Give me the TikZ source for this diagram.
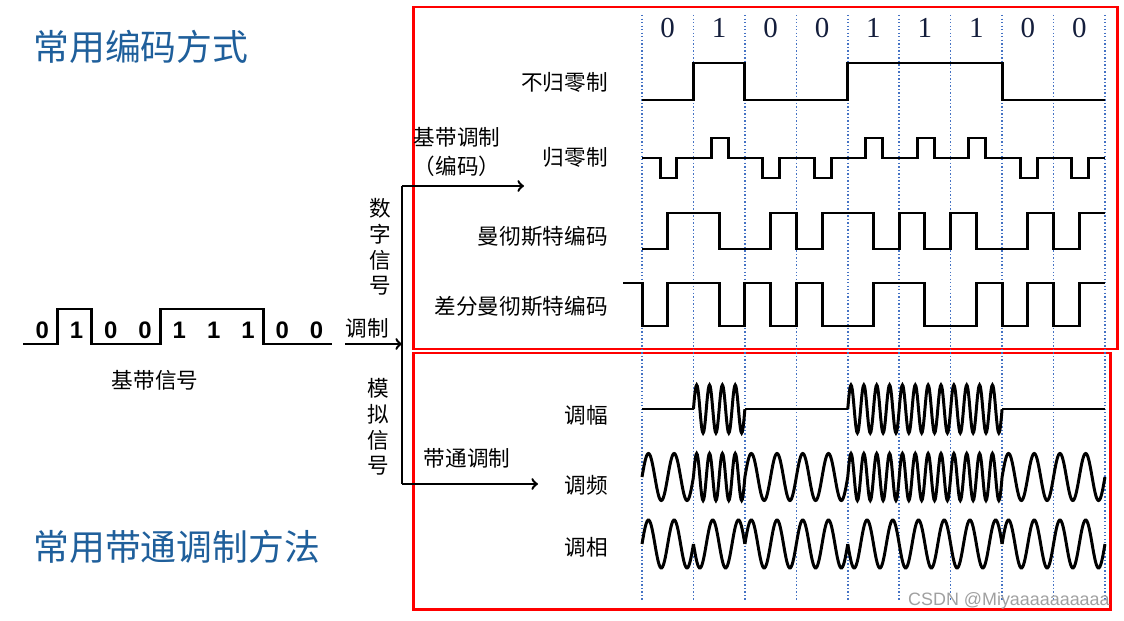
\documentclass[tikz,border=0pt]{standalone}
\usepackage{fontspec}
\setmainfont{Liberation Serif}
\newfontfamily\cjk{Noto Sans CJK SC}
\newfontfamily\arial{Liberation Sans}
\usetikzlibrary{arrows}

\definecolor{titleblue}{RGB}{31,95,155}
\definecolor{gridblue}{RGB}{68,114,196}
\definecolor{markgray}{RGB}{160,160,160}
\definecolor{bitink}{RGB}{20,30,60}

\tikzstyle{headline} = [
    font=\cjk\fontsize{20.4}{24}\selectfont,
    text=titleblue,
    anchor=west,
    inner sep=0pt
]
\tikzstyle{wavename} = [
    font=\cjk\fontsize{12.3}{15}\selectfont,
    anchor=east,
    inner sep=0pt
]
\tikzstyle{sidetext} = [
    font=\cjk\fontsize{12.3}{14.6}\selectfont,
    align=center,
    inner sep=0pt
]
\tikzstyle{bitnum} = [
    font=\fontsize{16.5}{19}\selectfont,
    text=bitink,
    inner sep=0pt
]
\tikzstyle{basenum} = [
    font=\arial\bfseries\fontsize{13.6}{16}\selectfont,
    inner sep=0pt
]
\tikzstyle{bitgrid} = [
    gridblue,
    line width=0.85pt,
    dash pattern=on 0.8pt off 1.2pt
]
\tikzstyle{wave} = [line width=1.7pt, line join=miter]
\tikzstyle{redbox} = [red, line width=1.7pt]
\tikzstyle{arrow} = [line width=1.4pt, ->, >=to]

\begin{document}
\begin{tikzpicture}[x=0.02cm, y=-0.02cm]
\useasboundingbox (0,0) rectangle (1124,621);

% titles
\node (codetitle) [headline] at (33,47) {常用编码方式};
\node (bandtitle) [headline] at (33,547) {常用带通调制方法};

% red frames
\draw [redbox] (413,7) rectangle (1117,349);
\draw [redbox] (413,353) rectangle (1110,609);

% bit grid and bit values
\foreach \k in {0,...,9}
    \draw [bitgrid] ({642+\k*51.44},15) -- ({642+\k*51.44},600);
\foreach \b [count=\i from 0] in {0,1,0,0,1,1,1,0,0}
    \node (bit\i) [bitnum] at ({642+(\i+0.5)*51.44},28) {\b};

% baseband signal
\draw [wave] (23,344) \foreach \b [count=\i from 0] in {0,1,0,0,1,1,1,0,0}
    { -- ({23+\i*34.3},{344-35*\b}) -- ({23+(\i+1)*34.3},{344-35*\b}) };
\foreach \b [count=\i from 0] in {0,1,0,0,1,1,1,0,0}
    \node (base\i) [basenum] at ({25+(\i+0.5)*34.3},330) {\b};
\node (basename) [sidetext] at (155,380) {基带信号};

% branch
\coordinate (instart) at (345,344);
\coordinate (fork) at (402,344);
\coordinate (forktop) at (402,186);
\coordinate (forkbot) at (402,484);
\coordinate (codeend) at (524,186);
\coordinate (bandend) at (538,484);
\node (modtext) [sidetext] at (367,328) {调制};
\draw [arrow] (instart) -- (fork);
\draw [line width=1.4pt] (forktop) -- (forkbot);
\draw [arrow] (forktop) -- (codeend);
\draw [arrow] (forkbot) -- (bandend);
\node (digital) [sidetext] at (380,247) {数\\字\\信\\号};
\node (analog) [sidetext] at (378,427) {模\\拟\\信\\号};
\node (basemod) [sidetext, font=\cjk\fontsize{12.3}{16.4}\selectfont] at (457,152) {基带调制\\（编码）};
\node (bandmod) [sidetext] at (467,458) {带通调制};

% line codes
\node (nrz) [wavename] at (608,82) {不归零制};
\node (rz) [wavename] at (608,157) {归零制};
\node (manch) [wavename] at (608,236) {曼彻斯特编码};
\node (dmanch) [wavename] at (608,306) {差分曼彻斯特编码};

\draw [wave] (642,100) \foreach \b [count=\i from 0] in {0,1,0,0,1,1,1,0,0}
    { -- ({642+\i*51.44},{100-37*\b}) -- ({642+(\i+1)*51.44},{100-37*\b}) };

\draw [wave] (642,158) \foreach \b [count=\i from 0] in {0,1,0,0,1,1,1,0,0}
    { -- ({642+(\i+0.35)*51.44},158) -- ({642+(\i+0.35)*51.44},{178-40*\b})
      -- ({642+(\i+0.68)*51.44},{178-40*\b}) -- ({642+(\i+0.68)*51.44},158)
      -- ({642+(\i+1)*51.44},158) };

\draw [wave] (642,249) \foreach \b [count=\i from 0] in {0,1,0,0,1,1,1,0,0}
    { -- ({642+\i*51.44},{249-36*\b}) -- ({642+(\i+0.5)*51.44},{249-36*\b})
      -- ({642+(\i+0.5)*51.44},{213+36*\b}) -- ({642+(\i+1)*51.44},{213+36*\b}) };

% first half level of each bit
\draw [wave] (623,283) -- (642,283) \foreach \f [count=\i from 0] in {0,1,1,1,0,1,0,0,0}
    { -- ({642+\i*51.44},{326-43*\f}) -- ({642+(\i+0.5)*51.44},{326-43*\f})
      -- ({642+(\i+0.5)*51.44},{283+43*\f}) -- ({642+(\i+1)*51.44},{283+43*\f}) };

% band pass
\node (am) [wavename] at (608,415) {调幅};
\node (fm) [wavename] at (608,485) {调频};
\node (pm) [wavename] at (608,547) {调相};

\foreach \b [count=\i from 0] in {0,1,0,0,1,1,1,0,0} {
    \draw [wave] plot [domain=0:1, samples=81]
        ({642+(\i+\x)*51.44},{409-24*\b*sin(1440*\x)});
    \draw [wave] plot [domain=0:1, samples=81]
        ({642+(\i+\x)*51.44},{477-23.5*sin(360*(2+2*\b)*\x)});
    \draw [wave] plot [domain=0:1, samples=61]
        ({642+(\i+\x)*51.44},{544-24*(1-2*\b)*sin(720*\x)});
}

\node (mark) [font=\arial\fontsize{10.2}{12}\selectfont, text=markgray, anchor=east, inner sep=0pt]
    at (1110,601) {CSDN @Miyaaaaaaaaaa};

\end{tikzpicture}
\end{document}
